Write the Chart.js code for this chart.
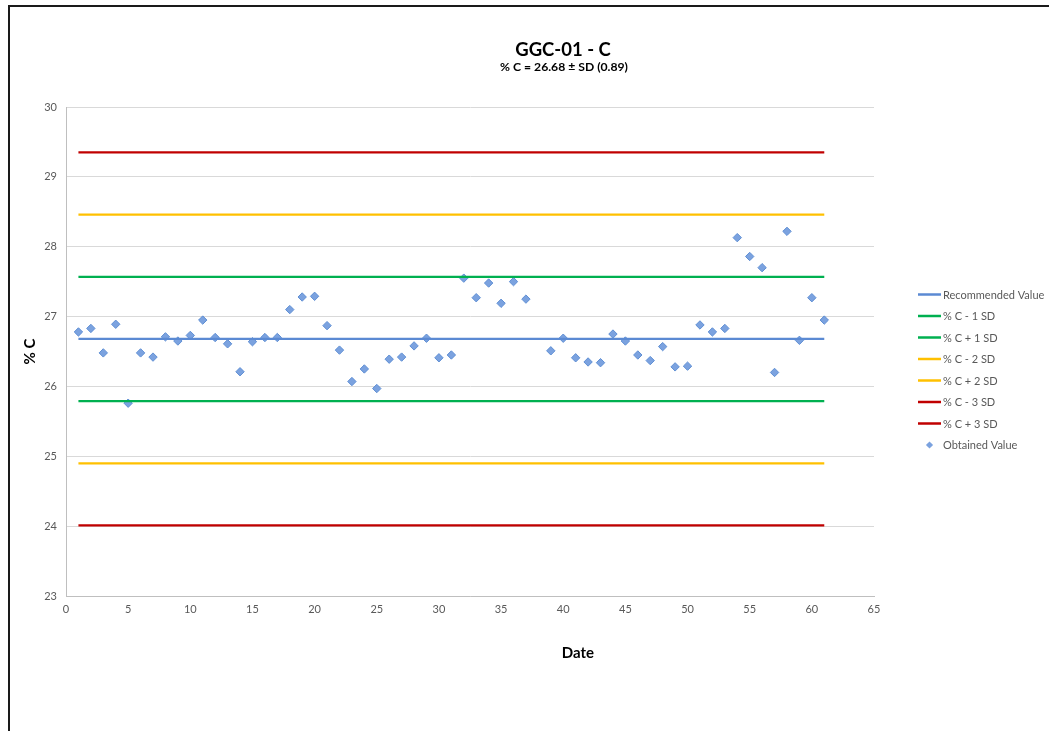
<!DOCTYPE html>
<html>
<head>
<meta charset="utf-8">
<title>GGC-01 - C</title>
<script src="https://cdn.jsdelivr.net/npm/chart.js@4.4.1/dist/chart.umd.min.js"></script>
<style>
  html, body { margin: 0; padding: 0; background: #fff; }
  #wrap { position: relative; width: 1049px; height: 731px; overflow: hidden; }
  #frame {
    position: absolute; left: 8px; top: 5px; width: 1200px; height: 900px;
    border-left: 2px solid #1a1a1a; border-top: 2px solid #1a1a1a;
  }
  #chart { position: absolute; left: 0; top: 0; }
</style>
</head>
<body>
<div id="wrap">
  <div id="frame"></div>
  <canvas id="chart" width="1049" height="731"></canvas>
</div>
<script>
// sample dates (run 38 has no result)
const dates = [
  1, 2, 3, 4, 5, 6, 7, 8, 9, 10,
  11, 12, 13, 14, 15, 16, 17, 18, 19, 20,
  21, 22, 23, 24, 25, 26, 27, 28, 29, 30,
  31, 32, 33, 34, 35, 36, 37, 39, 40,
  41, 42, 43, 44, 45, 46, 47, 48, 49, 50,
  51, 52, 53, 54, 55, 56, 57, 58, 59, 60, 61
];

// % C obtained for each date
const obtained = [
  26.78, 26.83, 26.48, 26.89, 25.76, 26.48, 26.42, 26.71, 26.65, 26.73,
  26.95, 26.70, 26.61, 26.21, 26.64, 26.70, 26.70, 27.10, 27.28, 27.29,
  26.87, 26.52, 26.07, 26.25, 25.97, 26.39, 26.42, 26.58, 26.69, 26.41,
  26.45, 27.55, 27.27, 27.48, 27.19, 27.50, 27.25, 26.51, 26.69,
  26.41, 26.35, 26.34, 26.75, 26.65, 26.45, 26.37, 26.57, 26.28, 26.29,
  26.88, 26.78, 26.83, 28.13, 27.86, 27.70, 26.20, 28.22, 26.66, 27.27, 26.95
];

const recommended = 26.68;
const sd = 0.89;

// control limit lines run across the first to the last date
const lineSpan = [1, 61];
const limitNames = ['Recommended Value', '% C - 1 SD', '% C + 1 SD', '% C - 2 SD', '% C + 2 SD', '% C - 3 SD', '% C + 3 SD'];
const limitOffsets = [0, -1, 1, -2, 2, -3, 3];
const limitColors = ['#5b8ad3', '#00b050', '#00b050', '#ffc000', '#ffc000', '#c00000', '#c00000'];

const xTicks = { min: 0, max: 65, step: 5 };
const yTicks = { min: 23, max: 30, step: 1 };

const FONT = 'Lato, "Liberation Sans", sans-serif';

const limitSets = limitNames.map((name, i) => {
  const v = recommended + limitOffsets[i] * sd;
  return {
    type: 'line',
    label: name,
    data: lineSpan.map(x => ({ x: x, y: v })),
    borderColor: limitColors[i],
    backgroundColor: limitColors[i],
    borderWidth: 2.25,
    pointRadius: 0,
    fill: false
  };
});

const obtainedSet = {
  type: 'scatter',
  label: 'Obtained Value',
  data: dates.map((d, i) => ({ x: d, y: obtained[i] })),
  pointStyle: 'rectRot',
  pointRadius: 4.2,
  backgroundColor: '#7ba2df',
  borderColor: '#5f8fd4',
  borderWidth: 1
};

// title, subtitle, x-axis caption and the side legend
const decorations = {
  id: 'decorations',
  afterDraw(chart) {
    const ctx = chart.ctx;
    ctx.save();
    ctx.fillStyle = '#000';
    ctx.textAlign = 'center';
    ctx.textBaseline = 'middle';
    ctx.font = 'bold 18.5px ' + FONT;
    ctx.fillText('GGC-01 - C', 563, 50);
    ctx.font = 'bold 12.2px ' + FONT;
    ctx.fillText('% C = ' + recommended.toFixed(2) + ' \u00b1 SD (' + sd.toFixed(2) + ')', 564, 67);
    ctx.font = 'bold 15px ' + FONT;
    ctx.fillText('Date', 578, 653);

    ctx.textAlign = 'left';
    ctx.font = '11px ' + FONT;
    chart.data.datasets.forEach((ds, i) => {
      const y = 294.5 + i * 21.5;
      if (ds.type === 'line') {
        ctx.strokeStyle = ds.borderColor;
        ctx.lineWidth = 2.5;
        ctx.beginPath();
        ctx.moveTo(918, y);
        ctx.lineTo(941, y);
        ctx.stroke();
      } else {
        ctx.fillStyle = ds.backgroundColor;
        ctx.beginPath();
        ctx.moveTo(929.5, y - 3.6);
        ctx.lineTo(933.1, y);
        ctx.lineTo(929.5, y + 3.6);
        ctx.lineTo(925.9, y);
        ctx.closePath();
        ctx.fill();
      }
      ctx.fillStyle = '#595959';
      ctx.fillText(ds.label, 943, y + 0.5);
    });
    ctx.restore();
  }
};

new Chart(document.getElementById('chart'), {
  type: 'scatter',
  data: { datasets: [...limitSets, obtainedSet] },
  options: {
    responsive: false,
    animation: false,
    devicePixelRatio: 1,
    layout: { padding: { left: 10, top: 107, right: 175, bottom: 0 } },
    plugins: {
      legend: { display: false },
      title: { display: false },
      tooltip: { enabled: false }
    },
    scales: {
      x: {
        type: 'linear',
        min: xTicks.min,
        max: xTicks.max,
        ticks: { stepSize: xTicks.step, color: '#595959', font: { family: FONT, size: 11 }, padding: 7, maxRotation: 0 },
        grid: { display: false, drawTicks: false },
        border: { color: '#bfbfbf', width: 1 },
        afterFit(scale) { scale.height = 135; }
      },
      y: {
        type: 'linear',
        min: yTicks.min,
        max: yTicks.max,
        ticks: { stepSize: yTicks.step, color: '#595959', font: { family: FONT, size: 11 }, padding: 9 },
        grid: { color: '#d9d9d9', drawTicks: false },
        border: { color: '#bfbfbf', width: 1 },
        title: {
          display: true,
          text: '% C',
          color: '#000',
          font: { family: FONT, size: 15, weight: 'bold' },
          padding: { top: 11, bottom: 0 }
        },
        afterFit(scale) { scale.width = 56; }
      }
    }
  },
  plugins: [decorations]
});
</script>
</body>
</html>
